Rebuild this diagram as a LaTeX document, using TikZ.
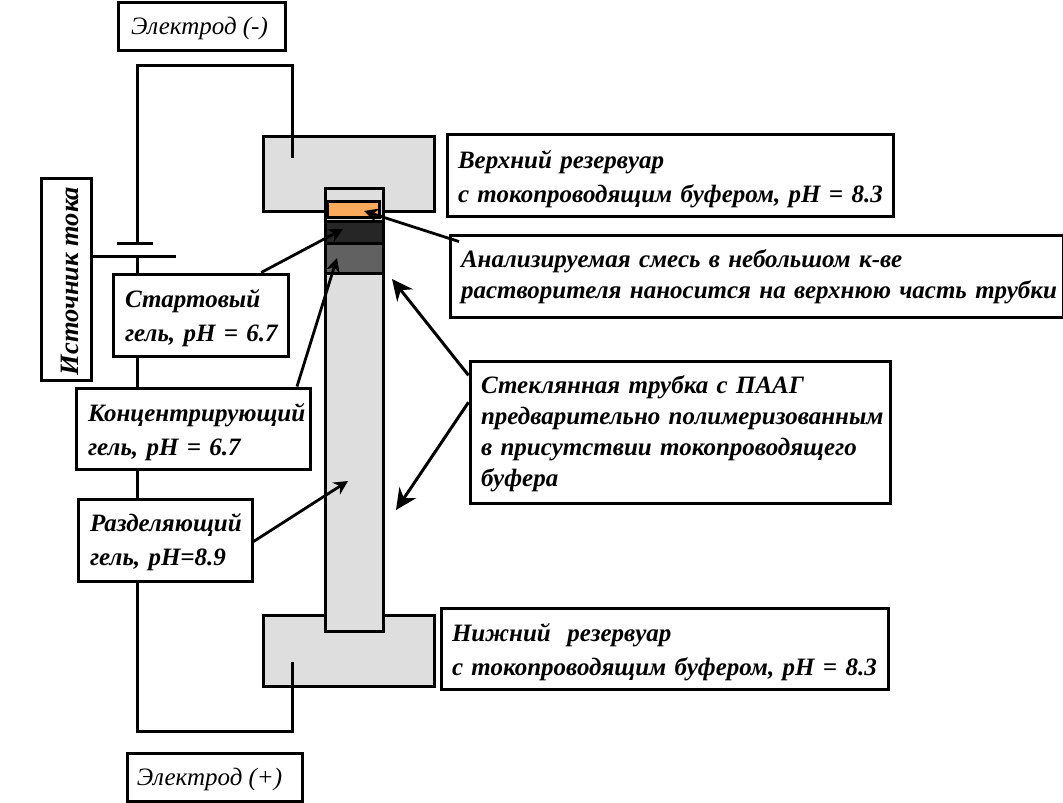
\documentclass[tikz,border=0pt]{standalone}
\usepackage{fontspec}
\setmainfont{Liberation Serif}
\usetikzlibrary{
  arrows.meta
}
\definecolor{samplefill}{RGB}{250,170,90}
\tikzset{
  textdrop/.style={
    execute at begin node={\leftskip=9pt\rule{0pt}{#1}},
  },
  capbox/.style={
    draw=black,
    fill=white,
    line width=3pt,
    align=left,
    inner sep=0pt,
    inner xsep=2pt,
    font=\fontsize{25}{34}\selectfont\bfseries\itshape,
  },
  tightbox/.style={
    capbox,
    font=\fontsize{25}{31}\selectfont\bfseries\itshape,
  },
  elbox/.style={
    capbox,
    align=center,
    font=\fontsize{25}{28}\selectfont\itshape,
  },
  tank/.style={
    draw=black,
    fill=black!13,
    line width=3pt,
    inner sep=0pt,
  },
  wire/.style={
    line width=3pt,
    draw=black,
  },
  arr/.style={
    -{Stealth[length=14pt,width=14pt]},
    line width=2.8pt,
    draw=black,
  },
  bigarr/.style={
    -{Stealth[length=21pt,width=20pt]},
    line width=3pt,
    draw=black,
  },
}
\begin{document}
\begin{tikzpicture}[
  x=1pt, y=-1pt,
]
  \useasboundingbox (0,0) rectangle (1063,803);

  % --- Buffer reservoirs ---
  \node[tank, minimum width=171pt, minimum height=75pt] (tanktop) at (348.5,173.5) {};
  \node[tank, minimum width=171pt, minimum height=71pt] (tankbot) at (348.5,650.5) {};

  % --- Circuit ---
  \coordinate (cornertl) at (137,65);
  \coordinate (cornertr) at (292,65);
  \coordinate (endtop) at (292,158);
  \coordinate (cornerbl) at (137,731);
  \coordinate (cornerbr) at (292,731);
  \coordinate (endbot) at (292,662);
  \coordinate (plateup) at (137,243);
  \coordinate (platelow) at (137,256);
  \coordinate (shortl) at (117,243);
  \coordinate (shortr) at (153,243);
  \coordinate (longr) at (176,256);

  \draw[wire] (plateup) -- (cornertl) -- (cornertr) -- (endtop);
  \draw[wire] (platelow) -- (cornerbl) -- (cornerbr) -- (endbot);
  \draw[wire] (shortl) -- (shortr);

  % --- Tube and gel layers ---
  \node[tank, minimum width=58pt, minimum height=443pt] (tube) at (354,409.5) {};
  \node[tank, fill=black!85, minimum width=58pt, minimum height=22pt] (stackgel) at (354,232) {};
  \node[tank, fill=black!62, minimum width=58pt, minimum height=30pt] (concgel) at (354,258) {};
  \node[tank, fill=samplefill, minimum width=52pt, minimum height=16pt] (sample) at (353,209) {};
  \coordinate (samplept) at (364,211);
  \coordinate (stackpt) at (343,229);
  \coordinate (concpt) at (337,258);
  \coordinate (seppt) at (348,481);
  \coordinate (glassup) at (392,279);
  \coordinate (glassdown) at (396,510);

  % --- Labels ---
  \node[elbox, textdrop=22pt, minimum width=167pt, minimum height=48pt] (elminus) at (201.5,26) {Электрод (-)\hspace*{4pt}};
  \node[elbox, textdrop=22pt, minimum width=175pt, minimum height=48pt] (elplus) at (214.5,777) {Электрод (+)\hspace*{10pt}};
  \node[capbox, align=center, rotate=90, minimum width=202pt, minimum height=50pt,
    font=\fontsize{26.5}{30}\selectfont\bfseries\itshape] (source) at (66,279)
    {\raisebox{-12pt}[0pt][0pt]{Источник тока}\hspace*{4pt}};

  \node[capbox, textdrop=27pt, minimum height=82pt, text width=442pt] (uppercap) at (670,175)
    {Верхний резервуар\\с токопроводящим буфером, pH = 8.3};
  \node[tightbox, textdrop=20pt, minimum height=82pt, text width=609pt] (mixcap) at (756.5,276)
    {Анализируемая смесь в небольшом к-ве\\растворителя наносится на верхнюю часть трубки};
  \node[tightbox, textdrop=22pt, minimum height=142pt, text width=416pt] (glasscap) at (680,432)
    {Стеклянная трубка с ПААГ\\предварительно полимеризованным\\в присутствии токопроводящего\\буфера};
  \node[capbox, textdrop=26pt, minimum height=81pt, text width=443pt] (lowercap) at (664.5,648.5)
    {Нижний~ резервуар\\с токопроводящим буфером, pH = 8.3};
  \node[capbox, textdrop=24pt, minimum height=82pt, text width=171pt] (startcap) at (200.5,315)
    {\hspace*{1pt}Стартовый\\\hspace*{1pt}гель, pH = 6.7};
  \node[capbox, textdrop=25pt, minimum height=81pt, text width=230pt] (conccap) at (193,428.5)
    {\hspace*{1pt}Концентрирующий\\\hspace*{1pt}гель, pH = 6.7};
  \node[capbox, textdrop=22pt, minimum height=82pt, text width=170pt] (sepcap) at (165,540)
    {\hspace*{1pt}Разделяющий\\\hspace*{1pt}гель, pH=8.9};

  % --- Connectors ---
  \draw[wire] (source.south |- platelow) -- (longr);
  \draw[arr, shorten <=-11pt] (mixcap.173) -- (samplept);
  \draw[arr] (startcap.35) -- (stackpt);
  \draw[arr] (conccap.22) -- (concpt);
  \draw[arr] (sepcap.-1) -- (seppt);
  \draw[bigarr] (glasscap.165.6) -- (glassup);
  \draw[bigarr] (glasscap.172) -- (glassdown);
\end{tikzpicture}
\end{document}
